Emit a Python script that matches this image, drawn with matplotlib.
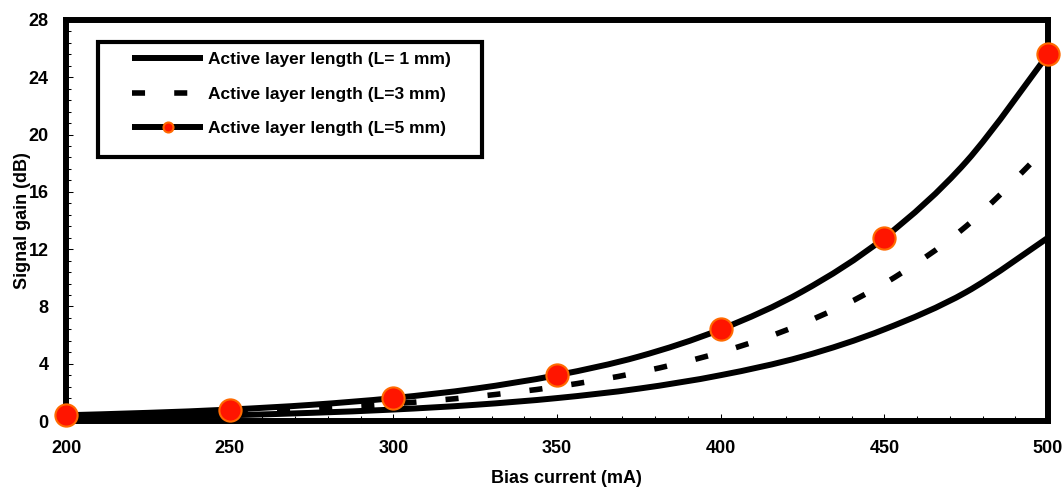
import matplotlib
matplotlib.use('Agg')
import numpy as np
import matplotlib.pyplot as plt
from matplotlib.patches import Rectangle, PathPatch
from matplotlib.path import Path
from matplotlib.lines import Line2D
from matplotlib.ticker import MultipleLocator

plt.rcParams['font.family'] = 'Liberation Sans'
plt.rcParams['font.weight'] = 'bold'
plt.rcParams['lines.scale_dashes'] = False

# bias current (mA) and signal gain (dB)
current = [200, 225, 250, 275, 300, 325, 350, 375, 400, 425, 450, 475, 500]
gain_1mm = [0.2, 0.28, 0.4, 0.57, 0.8, 1.13, 1.6, 2.26, 3.2, 4.5, 6.4, 9.0, 12.8]
gain_3mm = [0.3, 0.42, 0.6, 0.85, 1.2, 1.7, 2.4, 3.4, 4.8, 6.8, 9.6, 13.6, 19.2]
gain_5mm = [0.4, 0.57, 0.8, 1.13, 1.6, 2.26, 3.2, 4.5, 6.4, 9.05, 12.8, 18.1, 25.6]
labels = ['Active layer length (L= 1 mm)',
          'Active layer length (L=3 mm)',
          'Active layer length (L=5 mm)']


def smooth_path(x, y):
    # smoothed line like the spreadsheet one: bezier segments through the points
    p = np.column_stack([x, y]).astype(float)
    verts, codes = [p[0]], [Path.MOVETO]
    for i in range(len(p) - 1):
        p0 = p[i - 1] if i > 0 else p[i]
        p3 = p[i + 2] if i + 2 < len(p) else p[i + 1]
        verts += [p[i] + (p[i + 1] - p0) / 6, p[i + 1] - (p3 - p[i]) / 6, p[i + 1]]
        codes += [Path.CURVE4] * 3
    return Path(verts, codes)


W, H = 1064, 491
fig = plt.figure(figsize=(W / 100, H / 100), dpi=100)
ax = fig.add_axes([66 / W, 1 - 421 / H, (1048 - 66) / W, (421 - 20) / H])

styles = [dict(lw=4.3, linestyle='-'),
          dict(lw=4.0, linestyle=(0, (9.4, 21))),
          dict(lw=4.3, linestyle='-')]
for g, st in zip([gain_1mm, gain_3mm, gain_5mm], styles):
    ax.add_patch(PathPatch(smooth_path(current, g), fill=False, ec='black',
                           capstyle='butt', joinstyle='round', **st))

mk = dict(marker='o', ms=16, mfc='#ff1500', mec='#ff6a00', mew=1.5)
ax.plot(current[::2], gain_5mm[::2], ls='none', clip_on=False, zorder=3, **mk)

ax.set_xlim(200, 500)
ax.set_ylim(0, 28)
ax.xaxis.set_major_locator(MultipleLocator(50))
ax.xaxis.set_minor_locator(MultipleLocator(10))
ax.yaxis.set_major_locator(MultipleLocator(4))
ax.yaxis.set_minor_locator(MultipleLocator(0.8))
ax.tick_params(which='both', direction='in', top=False, right=False,
               width=0.75, color='black', labelsize=13)
ax.tick_params(which='major', length=4.8)
ax.tick_params(which='minor', length=3.8)
ax.tick_params(axis='x', pad=13.5)
ax.tick_params(axis='y', pad=12.5)

for sp in ax.spines.values():
    sp.set_linewidth(4.3)
    sp.set_capstyle('projecting')

ax.set_xlabel('Bias current (mA)', fontsize=13, fontweight='bold')
ax.xaxis.set_label_coords(0.51, -0.122)
ax.set_ylabel('Signal gain (dB)', fontsize=13, fontweight='bold')
ax.yaxis.set_label_coords(-0.036, 0.5)

handles = [Line2D([], [], color='black', lw=4.3, solid_capstyle='butt'),
           Line2D([], [], color='black', lw=4.0, dashes=(9.4, 21), dash_capstyle='butt'),
           Line2D([], [], color='black', lw=4.3, solid_capstyle='butt', **mk)]
leg = ax.legend(handles, labels, loc='upper left', bbox_to_anchor=(132 / W, 1 - 52 / H),
                bbox_transform=fig.transFigure, frameon=False, borderpad=0,
                borderaxespad=0, handlelength=4.1, handletextpad=0.3,
                labelspacing=1.11, fontsize=12.5, markerscale=0.45, numpoints=1)

fig.add_artist(Rectangle((98 / W, 1 - 157 / H), (482 - 98) / W, (157 - 42) / H,
                         transform=fig.transFigure, fill=False, lw=3, ec='black'))

fig.savefig('out.png', dpi=100)
